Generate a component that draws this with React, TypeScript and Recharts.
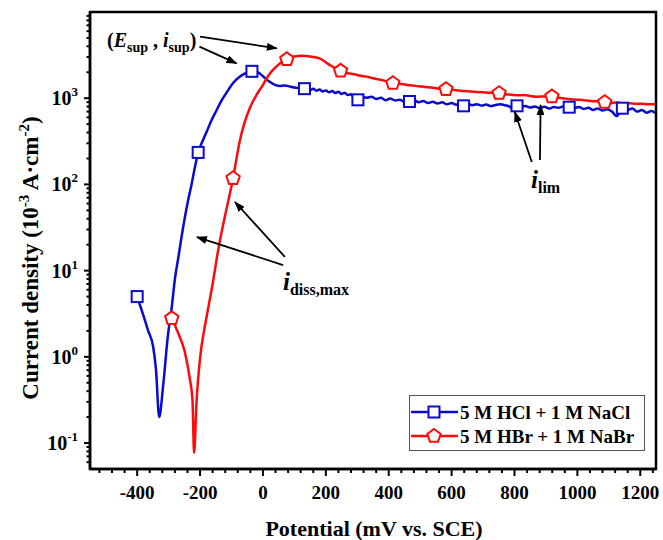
import React from 'react';
import { ComposedChart, Line, XAxis, YAxis, Legend } from 'recharts';

// ---- data (potential in mV vs. SCE, current density in 10^-3 A/cm2) ----
const hclE = [
  -400, -380, -365, -349, -340, -330, -317, -302, -291, -280, -268, -255, -240, -227, -216, -206,
  -195, -180, -165, -148, -130, -110, -95, -75, -55, -35, -20, 0, 20, 40, 55, 70, 85, 100, 115, 132,
  140, 150, 160, 170, 180, 190, 200, 210, 220, 230, 240, 250, 260, 270, 280, 290, 302, 315, 330,
  345, 360, 375, 390, 405, 420, 435, 450, 466, 480, 495, 510, 525, 540, 555, 570, 585, 600, 615,
  625, 638, 650, 665, 680, 695, 710, 725, 740, 755, 770, 785, 795, 808, 820, 835, 850, 865, 880,
  895, 910, 925, 940, 955, 974, 990, 1005, 1020, 1035, 1050, 1065, 1080, 1095, 1110, 1125, 1143,
  1160, 1175, 1190, 1205, 1220, 1235, 1250,
];
const hclI = [
  5, 3, 2, 1.3, 0.7, 0.2, 0.48, 1.8, 3.5, 8, 15, 30, 60, 100, 160, 235,
  300, 400, 540, 720, 960, 1250, 1500, 1760, 1950, 2050, 2030, 1800, 1560, 1420, 1390, 1400, 1370, 1330, 1310, 1290,
  1270, 1240, 1290, 1220, 1260, 1200, 1230, 1170, 1210, 1150, 1190, 1120, 1160, 1090, 1110, 1000, 958, 1050, 1010,
  1040, 980, 1010, 950, 990, 940, 960, 910, 916, 950, 900, 930, 880, 910, 870, 900, 850, 880, 840,
  870, 816, 860, 830, 850, 820, 845, 810, 835, 850, 830, 800, 745, 816, 790, 810, 780, 800, 770,
  795, 760, 790, 775, 800, 787, 770, 790, 750, 775, 730, 760, 720, 745, 700, 620, 766,
  730, 760, 700, 730, 680, 710, 670,
];
const hclMarks = [-400, -206, -35, 132, 302, 466, 638, 808, 974, 1143];

const hbrE = [
  -290, -270, -249, -233, -224, -219, -211, -201, -180, -160, -143, -122, -108, -95, -85, -74, -60,
  -42, -20, 0, 15, 32, 55, 76, 100, 122, 150, 180, 212, 247, 270, 290, 310, 330, 350, 370, 390,
  413, 435, 455, 475, 495, 515, 535, 555, 582, 600, 620, 640, 660, 680, 700, 720, 751, 770, 790,
  810, 830, 850, 870, 890, 919, 940, 960, 980, 1000, 1020, 1040, 1060, 1087, 1105, 1125, 1145,
  1165, 1185, 1205, 1225, 1250,
];
const hbrI = [
  2.8, 1.9, 1.16, 0.57, 0.31, 0.077, 0.31, 0.89, 2.8, 7, 16.8, 41, 70, 118, 190, 314, 500,
  766, 1100, 1430, 1780, 2130, 2550, 2830, 3050, 3100, 3050, 2900, 2440, 2077, 1950, 1900, 1820, 1780, 1700, 1650, 1580,
  1493, 1470, 1430, 1400, 1380, 1350, 1330, 1300, 1271, 1250, 1230, 1210, 1200, 1180, 1170, 1160, 1143, 1110, 1100,
  1080, 1090, 1060, 1040, 1050, 1047, 1010, 990, 970, 960, 950, 930, 920, 899, 880, 890, 870,
  875, 860, 865, 850, 852,
];
const hbrMarks = [-290, -95, 76, 247, 413, 582, 751, 919, 1087];

const xMajor = [-400, -200, 0, 200, 400, 600, 800, 1000, 1200];
const xTicks = [
  -520, -480, -440, -400, -360, -320, -280, -240, -200, -160, -120, -80, -40, 0, 40, 80, 120, 160, 200,
  240, 280, 320, 360, 400, 440, 480, 520, 560, 600, 640, 680, 720, 760, 800, 840, 880, 920, 960, 1000,
  1040, 1080, 1120, 1160, 1200, 1240,
];
const yMajor = [0.1, 1, 10, 100, 1000];
const yExp: Record<string, string> = { '0.1': '-1', '1': '0', '10': '1', '100': '2', '1000': '3' };
const yTicks = [
  0.06, 0.07, 0.08, 0.09, 0.1, 0.2, 0.3, 0.4, 0.5, 0.6, 0.7, 0.8, 0.9, 1, 2, 3, 4, 5, 6, 7, 8, 9, 10,
  20, 30, 40, 50, 60, 70, 80, 90, 100, 200, 300, 400, 500, 600, 700, 800, 900, 1000, 2000, 3000,
  4000, 5000, 6000, 7000, 8000, 9000,
];

const hclData = hclE.map((e, i) => ({ e, i: hclI[i] }));
const hbrData = hbrE.map((e, i) => ({ e, i: hbrI[i] }));

const BLUE = '#0a0ad0';
const RED = '#ff0a0a';
const FONT = "'Liberation Serif', 'Times New Roman', serif";
const TXT = { fontFamily: FONT, fontWeight: 700 } as const;

const W = 663;
const H = 540;
const PL = 90, PT = 12, PR = 656, PB = 469;
const X0 = -550, X1 = 1250, Y0 = 0.05, Y1 = 10000;
const px = (e: number) => PL + ((e - X0) / (X1 - X0)) * (PR - PL);
const py = (v: number) =>
  PB - ((Math.log10(v) - Math.log10(Y0)) / (Math.log10(Y1) - Math.log10(Y0))) * (PB - PT);

const Square = ({ cx, cy, color }: any) => (
  <rect x={cx - 5.5} y={cy - 5.5} width={11} height={11} fill="#fff" stroke={color} strokeWidth={2} />
);

const Pentagon = ({ cx, cy, color }: any) => {
  const r = 7;
  const pts = [0, 1, 2, 3, 4]
    .map((k) => {
      const a = -Math.PI / 2 + (k * 2 * Math.PI) / 5;
      return `${cx + r * Math.cos(a)},${cy + r * Math.sin(a)}`;
    })
    .join(' ');
  return <polygon points={pts} fill="#fff" stroke={color} strokeWidth={2} />;
};

const dotFor = (marks: number[], kind: 'sq' | 'pent', color: string) => (props: any) => {
  const { cx, cy, payload, index } = props;
  if (!marks.includes(payload.e)) return <g key={`d${index}`} />;
  return kind === 'sq' ? (
    <Square key={`d${index}`} cx={cx} cy={cy} color={color} />
  ) : (
    <Pentagon key={`d${index}`} cx={cx} cy={cy} color={color} />
  );
};

const XTick = ({ x, y, payload }: any) => {
  const major = xMajor.includes(payload.value);
  return (
    <g>
      <line x1={x} y1={y} x2={x} y2={y + (major ? 7 : 4)} stroke="#000" strokeWidth={2} />
      {major && (
        <text x={x} y={y + 30} textAnchor="middle" style={TXT} fontSize={19} fill="#000">
          {payload.value}
        </text>
      )}
    </g>
  );
};

const YTick = ({ x, y, payload }: any) => {
  const major = yMajor.includes(payload.value);
  return (
    <g>
      <line x1={x} y1={y} x2={x - (major ? 6 : 3.5)} y2={y} stroke="#000" strokeWidth={2} />
      {major && (
        <text x={x - 12} y={y + 7} textAnchor="end" style={TXT} fontSize={20} fill="#000">
          10
          <tspan fontSize={13} dy={-9}>
            {yExp[String(payload.value)]}
          </tspan>
        </text>
      )}
    </g>
  );
};

const LegendBox = () => (
  <svg width={236} height={56} style={{ display: 'block' }}>
    <rect x={0.5} y={0.5} width={235} height={55} fill="#fff" stroke="#555" strokeWidth={1} />
    <line x1={2} y1={17} x2={49} y2={17} stroke={BLUE} strokeWidth={2.5} />
    <Square cx={25} cy={17} color={BLUE} />
    <text x={51} y={23.5} style={TXT} fontSize={19} fill="#000">
      5 M HCl + 1 M NaCl
    </text>
    <line x1={2} y1={41} x2={49} y2={41} stroke={RED} strokeWidth={2.5} />
    <Pentagon cx={25} cy={41} color={RED} />
    <text x={51} y={47.5} style={TXT} fontSize={19} fill="#000">
      5 M HBr + 1 M NaBr
    </text>
  </svg>
);

const Arrow = ({ from, to }: { from: [number, number]; to: [number, number] }) => {
  const [x1, y1] = [px(from[0]), py(from[1])];
  const [x2, y2] = [px(to[0]), py(to[1])];
  return <line x1={x1} y1={y1} x2={x2} y2={y2} stroke="#000" strokeWidth={1.8} markerEnd="url(#ah)" />;
};

export default function App() {
  return (
    <div style={{ position: 'fixed', left: 0, top: 0, width: W, height: H, background: '#fff' }}>
      <ComposedChart width={W} height={H} margin={{ top: PT, right: W - PR, left: 0, bottom: 0 }}>
        <XAxis
          type="number"
          dataKey="e"
          domain={[X0, X1]}
          ticks={xTicks}
          interval={0}
          allowDataOverflow
          height={H - PB}
          tickSize={0}
          tickMargin={0}
          tickLine={false}
          axisLine={{ stroke: '#000', strokeWidth: 2.5 }}
          tick={<XTick />}
        />
        <YAxis
          type="number"
          scale="log"
          domain={[Y0, Y1]}
          ticks={yTicks}
          interval={0}
          allowDataOverflow
          width={PL}
          tickSize={0}
          tickMargin={0}
          tickLine={false}
          axisLine={{ stroke: '#000', strokeWidth: 2.5 }}
          tick={<YTick />}
        />
        <Line
          data={hclData}
          dataKey="i"
          type="monotone"
          stroke={BLUE}
          strokeWidth={2.5}
          dot={dotFor(hclMarks, 'sq', BLUE)}
          activeDot={false}
          isAnimationActive={false}
          name="5 M HCl + 1 M NaCl"
        />
        <Line
          data={hbrData}
          dataKey="i"
          type="monotone"
          stroke={RED}
          strokeWidth={2.5}
          dot={dotFor(hbrMarks, 'pent', RED)}
          activeDot={false}
          isAnimationActive={false}
          name="5 M HBr + 1 M NaBr"
        />
        <Legend
          layout="horizontal"
          verticalAlign="middle"
          align="center"
          content={() => <LegendBox />}
          wrapperStyle={{ left: 409, top: 395, width: 236, height: 56 }}
        />
      </ComposedChart>

      <svg
        width={W}
        height={H}
        style={{ position: 'absolute', left: 0, top: 0, pointerEvents: 'none', ...TXT }}
      >
        <defs>
          <marker id="ah" markerWidth="11" markerHeight="8" refX="10" refY="4" orient="auto" markerUnits="userSpaceOnUse">
            <path d="M0,0 L11,4 L0,8 Z" fill="#000" />
          </marker>
        </defs>
        <rect x={PL} y={PT} width={PR - PL} height={PB - PT} fill="none" stroke="#000" strokeWidth={2.5} />

        {/* annotations */}
        <text x={107} y={47} fontSize={20}>
          (<tspan fontStyle="italic">E</tspan>
          <tspan fontSize={14} dy={5}>sup</tspan>
          <tspan dy={-5}> , </tspan>
          <tspan fontStyle="italic">i</tspan>
          <tspan fontSize={14} dy={5}>sup</tspan>
          <tspan dy={-5}>)</tspan>
        </text>
        <Arrow from={[-200, 5170]} to={[44, 3790]} />
        <Arrow from={[-202, 3960]} to={[-84, 2540]} />

        <text x={283} y={290} fontSize={25}>
          <tspan fontStyle="italic">i</tspan>
          <tspan fontSize={16} dy={5}>diss,max</tspan>
        </text>
        <Arrow from={[64, 11.6]} to={[-210, 24.5]} />
        <Arrow from={[70, 14.4]} to={[-89, 62.5]} />

        <text x={531} y={188} fontSize={25}>
          <tspan fontStyle="italic">i</tspan>
          <tspan fontSize={16} dy={5}>lim</tspan>
        </text>
        <Arrow from={[855, 182]} to={[801, 692]} />
        <Arrow from={[881, 192]} to={[883, 834]} />

        {/* axis titles */}
        <text x={374} y={536} fontSize={22} textAnchor="middle">
          Potential (mV vs. SCE)
        </text>
        <text x={0} y={0} fontSize={23} textAnchor="middle" transform="translate(38 258) rotate(-90)">
          Current density (10<tspan fontSize={15} dy={-9}>-3</tspan>
          <tspan dy={9}> A·cm</tspan>
          <tspan fontSize={15} dy={-9}>-2</tspan>
          <tspan dy={9}>)</tspan>
        </text>
      </svg>
    </div>
  );
}
